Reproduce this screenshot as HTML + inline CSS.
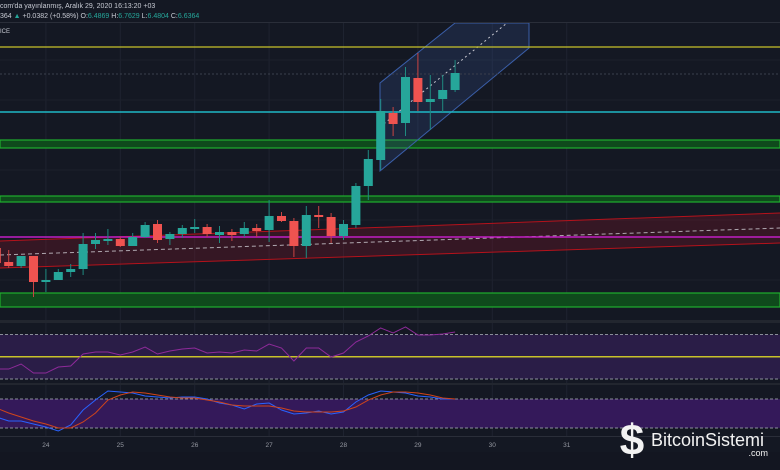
<!DOCTYPE html>
<html><head><meta charset="utf-8">
<style>
html,body{margin:0;padding:0;background:#131722;}
svg{display:block;font-family:"Liberation Sans",sans-serif;}
</style></head>
<body>
<svg id="chart" width="780" height="470" viewBox="0 0 780 470" xmlns="http://www.w3.org/2000/svg">
<rect x="0" y="0" width="780" height="470" fill="#141823"/>
<g id="grid"></g>
<g id="main"></g>
<g id="rsi"></g>
<g id="stoch"></g>
<g id="axis"></g>
<line x1="0" y1="22.5" x2="780" y2="22.5" stroke="#2a2e39"/>
<text x="0" y="8" font-size="7" fill="#c8cbd4">com'da yayınlanmış, Aralık 29, 2020 16:13:20 +03</text>
<text x="0" y="18" font-size="7" fill="#c8cbd4">364 <tspan fill="#26a69a">▲</tspan> +0.0382 (+0.58%) O:<tspan fill="#26a69a">6.4869</tspan> H:<tspan fill="#26a69a">6.7629</tspan> L:<tspan fill="#26a69a">6.4804</tspan> C:<tspan fill="#26a69a">6.6364</tspan></text>
<text x="0" y="33" font-size="6" fill="#c8cbd4">ICE</text>
<g>
<text x="632" y="455" font-size="44" font-weight="bold" fill="#f2f2f2" text-anchor="middle">$</text>
<text x="651" y="446" font-size="18" fill="#f2f2f2">BitcoinSistemi</text>
<text x="768" y="456" font-size="9" fill="#f2f2f2" text-anchor="end">.com</text>
</g>
</svg>
<script>
// ---- data ----
const opens  = [5.52,5.38,5.34,5.44,5.18,5.20,5.28,5.31,5.56,5.59,5.61,5.54,5.63,5.76,5.61,5.66,5.71,5.73,5.65,5.68,5.66,5.72,5.70,5.84,5.79,5.54,5.85,5.83,5.64,5.75,6.14,6.40,6.87,6.77,7.22,6.98,7.01,7.10];
const highs  = [5.54,5.50,5.44,5.44,5.31,5.31,5.36,5.67,5.67,5.71,5.63,5.67,5.78,5.80,5.68,5.75,5.81,5.76,5.74,5.71,5.78,5.76,6.00,5.88,5.82,5.94,5.94,5.87,5.80,6.17,6.50,7.01,6.93,7.33,7.47,7.25,7.25,7.40];
const lows   = [5.37,5.32,5.32,5.03,5.08,5.20,5.23,5.25,5.51,5.55,5.53,5.54,5.62,5.57,5.55,5.62,5.67,5.63,5.57,5.59,5.63,5.63,5.58,5.78,5.43,5.42,5.72,5.57,5.60,5.72,6.00,6.30,6.64,6.64,6.89,6.70,6.88,7.08];
const closes = [5.37,5.34,5.44,5.18,5.20,5.28,5.31,5.56,5.60,5.61,5.54,5.63,5.75,5.60,5.66,5.72,5.73,5.66,5.68,5.65,5.72,5.69,5.84,5.79,5.54,5.85,5.83,5.64,5.76,6.14,6.41,6.89,6.76,7.23,6.98,7.01,7.10,7.27];
const rsiValues = [39,39,43.5,35.4,35.4,40.8,41.7,52.5,54.3,54.3,51.6,54.3,58.8,52.5,55.2,57,57.9,53.4,54.3,53.4,56.1,55.2,61.5,57.9,46.2,57.9,57.9,49.8,53.4,63.3,68.7,75.9,71.4,76.8,69.6,69.6,70.5,72.3];
const stochK = [42.7,34.5,34.5,28.2,22,13.8,26.2,57.2,77.9,96.6,94.5,92.4,86.2,84.1,82.1,84.1,84.1,80,71.7,67.6,59.3,69.7,71.7,57.2,49,51,55.2,49,53.1,73.8,88.3,96.6,94.5,92.4,86.2,84.1,80,80];
const stochD = [61.4,51,42.7,34.5,28.2,20,20,32.4,51,77.9,88.3,94.5,92.4,88.3,84.1,82.1,82.1,77.9,73.8,67.6,65.5,65.5,65.5,61.4,55.2,53.1,53.1,53.1,55.2,63.4,77.9,88.3,94.5,94.5,92.4,88.3,82.1,80];
const dayLabels = ["24","25","26","27","28","29","30","31"];
const dayStartIndex = [4,10,16,22,28,34,40,46];
const levelYellow = 7.53, levelDashed = 7.26, levelCyan = 6.88, levelMagenta = 5.63;
const greenBands = [[6.60,6.52],[6.04,5.98],[5.07,4.93]];

// ---- scales ----
const xs = i => -3.7 + 12.4*i;
const ys = p => 800 - p*100;
const yr = v => 356.8 - (v-50)*1.1125;
const yk = v => 399 - (v-80)*0.483;
const NS = "http://www.w3.org/2000/svg";
function mk(parent, tag, attrs){const e=document.createElementNS(NS,tag);for(const k in attrs)e.setAttribute(k,attrs[k]);parent.appendChild(e);return e;}
const grid=document.getElementById('grid'), main=document.getElementById('main'), rsi=document.getElementById('rsi'), st=document.getElementById('stoch'), ax=document.getElementById('axis');

// grid
dayStartIndex.forEach((di,k)=>{
  const l=mk(grid,'line',{x1:xs(di),y1:23,x2:xs(di),y2:436,stroke:'#1e2330','stroke-width':1});
  
  
  const t=mk(ax,'text',{x:xs(di),y:447,'font-size':6.5,fill:'#9598a1','text-anchor':'middle'});
  t.textContent=dayLabels[k];
  
  
});
[60,100,170,220,280].forEach(y=>{const l=mk(grid,'line',{x1:0,y1:y,x2:780,y2:y,stroke:'#1c202b'});
  
  });
const sep1=mk(grid,'rect',{x:0,y:320,width:780,height:3,fill:'#22262f'});


const sep2=mk(grid,'rect',{x:0,y:383,width:780,height:2,fill:'#22262f'});


const bot=mk(grid,'rect',{x:0,y:452,width:780,height:18,fill:'#131621'});


const axl=mk(grid,'line',{x1:0,y1:436.5,x2:780,y2:436.5,stroke:'#2a2e39'});



// red regression channel
const ch=mk(main,'polygon',{points:`0,${ys(5.59)} 780,${ys(5.87)} 780,${ys(5.57)} 0,${ys(5.32)}`,fill:'rgba(140,20,40,0.28)',stroke:'none'});


const chu=mk(main,'line',{x1:0,y1:ys(5.59),x2:780,y2:ys(5.87),stroke:'#b5121b','stroke-width':1});


const chl=mk(main,'line',{x1:0,y1:ys(5.32),x2:780,y2:ys(5.57),stroke:'#b5121b','stroke-width':1});


const chm=mk(main,'line',{x1:0,y1:ys(5.45),x2:780,y2:ys(5.72),stroke:'#b0a8b0','stroke-width':1,'stroke-dasharray':'4 3'});



// green bands
greenBands.forEach(b=>{
  const r=mk(main,'rect',{x:0,y:ys(b[0]),width:780,height:ys(b[1])-ys(b[0]),fill:'#0f4a1c',stroke:'#1fae2e','stroke-width':1.2});
  
  
});

// blue parallel channel
const pc=mk(main,'polygon',{points:'380,83 455,23 529,23 529,48 380,171',fill:'rgba(60,90,160,0.22)',stroke:'#3a5ea8','stroke-width':1});


const pm=mk(main,'line',{x1:380,y1:127,x2:507,y2:23,stroke:'#c8c8d0','stroke-width':1,'stroke-dasharray':'2 3'});



// horizontal levels
const hy=mk(main,'line',{x1:0,y1:ys(levelYellow),x2:780,y2:ys(levelYellow),stroke:'#c8c22a','stroke-width':1.3});


const hd=mk(main,'line',{x1:0,y1:ys(levelDashed),x2:780,y2:ys(levelDashed),stroke:'#3a3f4c','stroke-width':1,'stroke-dasharray':'2 2'});


const hc=mk(main,'line',{x1:0,y1:ys(levelCyan),x2:780,y2:ys(levelCyan),stroke:'#1fb8c6','stroke-width':1.5});


const hm=mk(main,'line',{x1:0,y1:ys(levelMagenta),x2:780,y2:ys(levelMagenta),stroke:'#c21ec4','stroke-width':1.5});



// candles
opens.forEach((o,i)=>{
  const c=closes[i], up=c>=o, col=up?'#26a69a':'#ef5350';
  const x=xs(i);
  const w=mk(main,'line',{x1:x,y1:ys(highs[i]),x2:x,y2:ys(lows[i]),stroke:up?'#1f8a80':'#c94442','stroke-width':1});
  
  
  const top=ys(Math.max(o,c)), h=Math.max(1.2,Math.abs(ys(o)-ys(c)));
  const b=mk(main,'rect',{x:x-4.5,y:top,width:9,height:h,fill:col});
  
  
});

// RSI pane
const rb=mk(rsi,'rect',{x:0,y:yr(70),width:780,height:yr(30)-yr(70),fill:'#2a1d47'});


[70,30].forEach(v=>{const l=mk(rsi,'line',{x1:0,y1:yr(v),x2:780,y2:yr(v),stroke:'#8a8e99','stroke-dasharray':'3 2'});
  
  });
const ry=mk(rsi,'line',{x1:0,y1:yr(50),x2:780,y2:yr(50),stroke:'#c8c22a','stroke-width':1.5});


const rp=mk(rsi,'polyline',{points:rsiValues.map((v,i)=>`${xs(i)},${yr(v)}`).join(' '),fill:'none',stroke:'#8e2a9a','stroke-width':1});



// Stoch pane
const sb=mk(st,'rect',{x:0,y:yk(80),width:780,height:yk(20)-yk(80),fill:'#34195a'});


[80,20].forEach(v=>{const l=mk(st,'line',{x1:0,y1:yk(v),x2:780,y2:yk(v),stroke:'#8a8e99','stroke-dasharray':'3 2'});
  
  });
const kl=mk(st,'polyline',{points:stochK.map((v,i)=>`${xs(i)},${yk(v)}`).join(' '),fill:'none',stroke:'#2962ff','stroke-width':1});


const dl=mk(st,'polyline',{points:stochD.map((v,i)=>`${xs(i)},${yk(v)}`).join(' '),fill:'none',stroke:'#d0451b','stroke-width':1});


</script>
</body></html>
